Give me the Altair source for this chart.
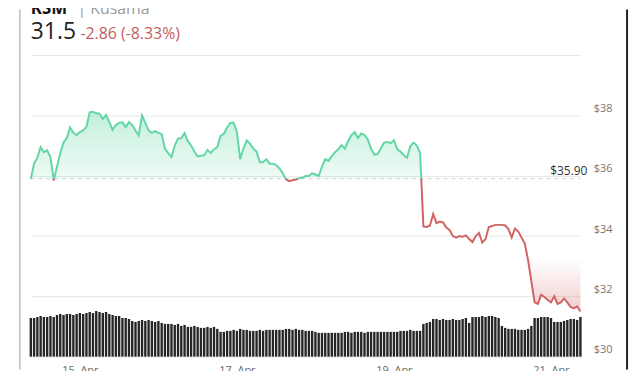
import altair as alt
import pandas as pd

# ---------------- data ----------------
start = pd.Timestamp("2023-04-14 09:00")
prev_close = 35.90

price = [
    35.90, 36.40, 36.60, 36.95, 36.78, 36.84, 36.62, 35.84, 36.30, 36.75,
    37.10, 37.25, 37.60, 37.42, 37.35, 37.45, 37.50, 37.62, 38.10, 38.12,
    38.07, 38.06, 37.88, 38.02, 37.78, 37.52, 37.68, 37.75, 37.77, 37.61,
    37.78, 37.68, 37.50, 37.34, 38.00, 37.75, 37.50, 37.42, 37.48, 37.42,
    37.38, 36.90, 36.75, 36.62, 37.00, 37.23, 37.25, 37.41, 37.15, 37.00,
    36.80, 36.64, 36.66, 36.68, 36.86, 36.75, 36.88, 36.95, 37.32, 37.39,
    37.60, 37.75, 37.76, 37.45, 36.55, 36.90, 37.17, 37.06, 36.90, 36.80,
    36.45, 36.45, 36.55, 36.40, 36.40, 36.35, 36.24, 36.08, 35.88, 35.82,
    35.85, 35.87, 35.92, 35.93, 35.99, 35.99, 36.08, 36.04, 35.99, 36.30,
    36.55, 36.49, 36.65, 36.78, 36.88, 37.02, 36.90, 37.15, 37.35, 37.45,
    37.25, 37.40, 37.35, 37.20, 36.90, 36.70, 36.72, 36.90, 37.10, 37.12,
    37.08, 37.18, 36.88, 36.80, 36.68, 36.60, 36.98, 37.10, 37.00, 36.75,
    34.32, 34.30, 34.35, 34.73, 34.43, 34.48, 34.45, 34.28, 34.20, 34.00,
    33.95, 34.00, 33.98, 34.02, 33.90, 33.80, 34.00, 34.10, 33.78, 33.90,
    34.30, 34.33, 34.37, 34.37, 34.37, 34.35, 34.23, 33.95, 34.25, 34.15,
    33.95, 33.75, 33.20, 32.50, 31.80, 31.75, 32.05, 31.98, 31.88, 31.80,
    32.00, 31.75, 31.80, 31.93, 31.80, 31.65, 31.60, 31.67, 31.50,
]

volume = [
    39, 39, 40, 41, 40, 40, 41, 40, 42, 43,
    42, 43, 43, 42, 43, 44, 43, 44, 45, 44,
    46, 45, 44, 45, 43, 42, 41, 41, 39, 39,
    38, 36, 35, 36, 37, 36, 37, 36, 35, 36,
    34, 33, 33, 33, 32, 33, 31, 32, 30, 30,
    31, 30, 29, 29, 30, 29, 30, 28, 25, 25,
    26, 26, 27, 26, 28, 27, 27, 26, 26, 26,
    27, 26, 27, 27, 27, 27, 27, 27, 28, 28,
    27, 28, 27, 27, 26, 26, 26, 25, 24, 24,
    24, 24, 24, 24, 24, 24, 25, 25, 24, 25,
    25, 25, 24, 25, 25, 25, 25, 25, 25, 25,
    25, 25, 25, 26, 26, 26, 27, 26, 26, 26,
    33, 34, 35, 38, 38, 37, 38, 37, 37, 38,
    37, 37, 38, 39, 34, 40, 40, 40, 41, 40,
    41, 41, 40, 39, 31, 29, 28, 28, 28, 27,
    27, 27, 28, 31, 39, 39, 40, 40, 40, 39,
    35, 35, 35, 36, 37, 38, 38, 37, 40,
]

x_tick_days = [15, 17, 19, 21]

# ---------------- derived tables ----------------
times = [start + pd.Timedelta(hours=i) for i in range(len(price))]

ext = []
for i in range(len(price)):
    if i > 0:
        p0, p1 = price[i - 1], price[i]
        if (p0 - prev_close) * (p1 - prev_close) < 0:
            f = (prev_close - p0) / (p1 - p0)
            tc = times[i - 1] + (times[i] - times[i - 1]) * f
            ext.append((tc, prev_close, True))
    ext.append((times[i], price[i], False))

line_rows = []
seg = 0
cur = None
for t, p, cross in ext:
    if cross:
        line_rows.append(dict(t=t, p=p, seg=seg, side=cur))
        seg += 1
        cur = "down" if cur == "up" else "up"
        line_rows.append(dict(t=t, p=p, seg=seg, side=cur))
    else:
        s = "up" if p >= prev_close else "down"
        if cur is None:
            cur = s
        line_rows.append(dict(t=t, p=p, seg=seg, side=cur))
line_df = pd.DataFrame(line_rows)

area_df = pd.DataFrame(
    [dict(t=t, up=max(p, prev_close), down=min(p, prev_close), thr=prev_close) for t, p, _ in ext]
)
vol_df = pd.DataFrame({"t": times[: len(volume)], "v": volume})
thr_df = pd.DataFrame({"thr": [prev_close]})
dummy = pd.DataFrame({"a": [0]})

GREEN = "#62d6a5"
RED = "#d26464"

xscale = alt.Scale(
    domain=[alt.DateTime(year=2023, month=4, date=14, hours=9),
            alt.DateTime(year=2023, month=4, date=21, hours=9)],
    nice=False, padding=0,
)
xaxis = alt.Axis(
    values=[alt.DateTime(year=2023, month=4, date=d) for d in x_tick_days],
    format="%d. %b", title=None, domain=False, ticks=False, grid=False,
    labelColor="#666", labelFontSize=11, labelFont="Open Sans", labelPadding=8,
)
pscale = alt.Scale(domain=[30, 40], nice=False, zero=False)
paxis = alt.Axis(
    orient="right", values=[30, 32, 34, 36, 38, 40], title=None,
    labelExpr="datum.value == 40 ? '' : '$' + datum.value",
    domain=False, ticks=False, grid=True, gridColor="#e8e8e8",
    labelColor="#777", labelFontSize=11, labelFont="Open Sans",
    labelPadding=13, labelOffset=-7, labelFlush=False,
)

X = alt.X("t:T", scale=xscale, axis=xaxis)

bars = alt.Chart(vol_df).mark_bar(width=2.4, color="#262626").encode(
    x=X,
    y=alt.Y("v:Q", scale=alt.Scale(domain=[0, 304], padding=0), axis=None),
)

area_up = alt.Chart(area_df).mark_area(
    color=alt.Gradient(
        gradient="linear", x1=0, x2=0, y1=0, y2=1,
        stops=[alt.GradientStop(color="rgba(98,214,165,0.38)", offset=0),
               alt.GradientStop(color="rgba(98,214,165,0.10)", offset=1)],
    )
).encode(
    x=X,
    y=alt.Y("up:Q", scale=pscale, axis=paxis),
    y2="thr:Q",
)

area_down = alt.Chart(area_df).mark_area(
    color=alt.Gradient(
        gradient="linear", x1=0, x2=0, y1=0, y2=1,
        stops=[alt.GradientStop(color="rgba(210,100,100,0)", offset=0),
               alt.GradientStop(color="rgba(210,100,100,0)", offset=0.6),
               alt.GradientStop(color="rgba(210,100,100,0.32)", offset=1)],
    )
).encode(
    x=X,
    y=alt.Y("down:Q", scale=pscale, axis=None),
    y2="thr:Q",
)

thr_rule = alt.Chart(thr_df).mark_rule(color="#d0d0d0", strokeDash=[4, 4], strokeWidth=1).encode(
    x=alt.value(0), x2=alt.value(554), y=alt.Y("thr:Q", scale=pscale, axis=None)
)

lines = alt.Chart(line_df).mark_line(strokeWidth=2).encode(
    x=X,
    y=alt.Y("p:Q", scale=pscale, axis=None),
    color=alt.Color("side:N", scale=alt.Scale(domain=["up", "down"], range=[GREEN, RED]), legend=None),
    detail="seg:N",
)

thr_label = alt.Chart(thr_df).mark_text(
    text="$%.2f" % prev_close, align="right", baseline="middle", dy=-8,
    font="Open Sans", fontSize=12, color="#333",
).encode(x=alt.value(561), y=alt.Y("thr:Q", scale=pscale, axis=None))


def label(txt, x, y, size, color, weight="normal"):
    return alt.Chart(dummy).mark_text(
        text=txt, align="left", baseline="alphabetic", font="Open Sans",
        fontSize=size, color=color, fontWeight=weight,
    ).encode(x=alt.value(x), y=alt.value(y))


t1 = label("KSM", 0, -41, 17, "#111", "bold")
t2 = label("| Kusama", 47, -41, 16, "#9a9a9a")
t3 = label("31.5", 0, -16, 23, "#222")
t4 = label("-2.86 (-8.33%)", 50, -16, 16, "#c45c5c")

left_border = alt.Chart(dummy).mark_rule(color="#9a9a9a", strokeWidth=1).encode(
    x=alt.value(-11), y=alt.value(-46), y2=alt.value(317)
)
right_border = alt.Chart(dummy).mark_rule(color="#222", strokeWidth=2).encode(
    x=alt.value(601), y=alt.value(-46), y2=alt.value(317)
)

chart = alt.layer(
    bars, area_up, area_down, thr_rule, lines, thr_label,
    t1, t2, t3, t4, left_border, right_border,
).resolve_scale(y="independent").properties(
    width=554, height=304,
    autosize=alt.AutoSizeParams(type="none"),
    padding={"left": 23, "top": 46, "right": 52, "bottom": 13},
).configure_view(stroke=None)

chart.save("out.html", embed_options={"renderer": "svg", "actions": False})
